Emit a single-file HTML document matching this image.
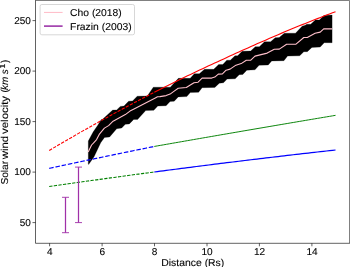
<!DOCTYPE html>
<html><head><meta charset="utf-8"><title>Solar wind velocity</title>
<style>
html,body{margin:0;padding:0;background:#fff;}
body{width:350px;height:267px;overflow:hidden;position:relative;}
svg{will-change:transform;}
svg text{font-family:"Liberation Sans",sans-serif;fill:#000;stroke:#000;stroke-width:0.1px;text-rendering:geometricPrecision;}
</style></head><body>
<svg width="350" height="267" viewBox="0 0 350 267" style="position:absolute;left:0;top:0">
<rect x="0" y="0" width="350" height="267" fill="#fff"/>
<polygon points="88.3,152.0 88.3,141.0 93.1,132.1 97.6,125.5 101.1,119.7 102.6,119.2 112.7,110.1 116.7,109.9 120.3,106.4 124.0,106.1 128.6,101.2 132.6,101.0 137.2,96.2 147.3,96.0 153.3,87.2 170.3,87.2 178.4,78.3 190.2,78.3 194.3,73.7 199.3,73.7 204.5,69.3 213.7,69.3 218.7,64.5 222.8,64.5 226.8,60.2 230.3,60.2 235.0,55.8 237.6,55.8 242.1,51.2 250.7,51.0 255.3,46.7 259.3,46.7 264.5,41.8 270.6,41.8 275.2,37.7 279.2,37.5 284.3,33.2 295.5,33.2 302.1,26.2 305.2,25.2 306.7,24.2 310.7,24.2 315.3,20.0 319.3,20.0 323.9,15.6 332.1,15.0 332.1,42.7 324.2,42.7 320.2,47.1 311.9,47.4 307.3,51.7 303.8,51.7 299.7,55.8 287.6,56.1 283.9,60.7 271.7,61.0 268.2,65.0 259.1,65.2 255.0,69.8 246.8,70.2 242.8,74.5 239.2,74.7 235.2,78.8 227.1,79.1 223.5,82.8 219.3,83.2 214.8,87.4 202.1,87.7 198.6,92.3 190.3,92.6 186.8,96.6 178.2,96.9 174.2,101.2 170.1,101.4 166.1,105.7 157.8,106.1 153.8,110.3 145.7,110.6 137.6,119.4 133.7,119.4 129.3,123.9 125.3,124.3 121.7,128.1 116.7,128.7 109.6,137.0 104.5,137.4 100.7,142.7 98.2,148.1 94.1,156.7 88.6,164.6 88.3,163.8" fill="#000" stroke="#000" stroke-width="0.25" stroke-linejoin="round"/>
<polyline points="88.2,152.1 91.6,145.0 94.1,142.3 96.6,139.6 99.2,134.4 104.4,128.1 108.6,125.6 113.1,121.2 125.3,114.6 130.0,111.1 134.0,109.1 155.3,98.0 157.5,96.8 160.0,96.6 166.1,95.6 170.1,94.1 174.2,91.1 178.2,88.2 186.3,87.5 190.3,85.0 194.0,82.7 198.1,82.2 202.1,78.1 211.7,78.1 214.8,77.1 218.3,74.1 222.4,73.9 226.1,70.2 230.1,69.1 235.2,65.6 241.2,63.6 246.3,60.2 250.8,60.2 255.0,56.1 260.1,54.9 267.2,53.1 274.3,49.3 279.3,49.1 286.6,44.3 295.7,44.3 303.8,37.5 307.3,37.5 315.1,33.3 320.2,32.1 323.7,28.9 332.1,28.9" fill="none" stroke="#ffc0cb" stroke-width="1.1" stroke-linejoin="round"/>
<polyline points="49.20,150.50 50.95,149.46 52.70,148.42 54.45,147.38 56.21,146.35 57.96,145.32 59.71,144.29 61.46,143.26 63.21,142.24 64.96,141.22 66.71,140.20 68.46,139.18 70.22,138.17 71.97,137.16 73.72,136.15 75.47,135.14 77.22,134.14 78.97,133.13 80.72,132.13 82.48,131.14 84.23,130.14 85.98,129.15 87.73,128.16 89.48,127.17 91.23,126.18 92.98,125.20 94.73,124.22 96.49,123.24 98.24,122.26 99.99,121.29 101.74,120.32 103.49,119.35 105.24,118.38 106.99,117.41 108.75,116.45 110.50,115.49 112.25,114.54 114.00,113.58 115.75,112.63 117.50,111.68 119.25,110.73 121.00,109.79 122.76,108.84 124.51,107.90 126.26,106.96 128.01,106.03 129.76,105.10 131.51,104.17 133.26,103.24 135.02,102.32 136.77,101.39 138.52,100.47 140.27,99.56 142.02,98.64 143.77,97.73 145.52,96.82 147.27,95.92 149.03,95.01 150.78,94.11 152.53,93.21 154.28,92.32" fill="none" stroke="#ff0000" stroke-width="1.1" stroke-dasharray="3.3 1.33"/>
<polyline points="154.28,92.32 157.30,90.78 160.32,89.25 163.34,87.73 166.36,86.22 169.39,84.72 172.41,83.22 175.43,81.74 178.45,80.26 181.47,78.79 184.49,77.32 187.51,75.87 190.53,74.42 193.55,72.98 196.57,71.55 199.60,70.12 202.62,68.70 205.64,67.28 208.66,65.87 211.68,64.46 214.70,63.06 217.72,61.67 220.74,60.27 223.76,58.88 226.79,57.50 229.81,56.11 232.83,54.74 235.85,53.36 238.87,51.99 241.89,50.62 244.91,49.26 247.93,47.90 250.95,46.55 253.97,45.20 257.00,43.86 260.02,42.53 263.04,41.20 266.06,39.88 269.08,38.56 272.10,37.25 275.12,35.95 278.14,34.66 281.16,33.38 284.19,32.10 287.21,30.83 290.23,29.57 293.25,28.32 296.27,27.08 299.29,25.85 302.31,24.62 305.33,23.40 308.35,22.19 311.37,20.99 314.40,19.80 317.42,18.62 320.44,17.44 323.46,16.27 326.48,15.11 329.50,13.96 332.52,12.81 335.54,11.67" fill="none" stroke="#ff0000" stroke-width="1.1"/>
<polyline points="49.20,168.36 50.95,167.99 52.70,167.61 54.45,167.23 56.21,166.86 57.96,166.48 59.71,166.11 61.46,165.73 63.21,165.36 64.96,164.99 66.71,164.61 68.46,164.24 70.22,163.87 71.97,163.49 73.72,163.12 75.47,162.75 77.22,162.38 78.97,162.01 80.72,161.64 82.48,161.27 84.23,160.90 85.98,160.53 87.73,160.16 89.48,159.79 91.23,159.43 92.98,159.06 94.73,158.69 96.49,158.33 98.24,157.96 99.99,157.59 101.74,157.23 103.49,156.86 105.24,156.50 106.99,156.13 108.75,155.77 110.50,155.41 112.25,155.04 114.00,154.68 115.75,154.32 117.50,153.96 119.25,153.60 121.00,153.24 122.76,152.87 124.51,152.51 126.26,152.15 128.01,151.79 129.76,151.44 131.51,151.08 133.26,150.72 135.02,150.36 136.77,150.00 138.52,149.65 140.27,149.29 142.02,148.93 143.77,148.58 145.52,148.22 147.27,147.87 149.03,147.51 150.78,147.16 152.53,146.80 154.28,146.45" fill="none" stroke="#0000ff" stroke-width="1.2" stroke-dasharray="4.52 1.84"/>
<polyline points="154.28,146.45 157.30,145.92 160.32,145.39 163.34,144.86 166.36,144.33 169.39,143.80 172.41,143.27 175.43,142.74 178.45,142.22 181.47,141.69 184.49,141.16 187.51,140.64 190.53,140.11 193.55,139.59 196.57,139.06 199.60,138.54 202.62,138.01 205.64,137.49 208.66,136.96 211.68,136.44 214.70,135.92 217.72,135.40 220.74,134.87 223.76,134.35 226.79,133.83 229.81,133.31 232.83,132.79 235.85,132.27 238.87,131.75 241.89,131.23 244.91,130.71 247.93,130.20 250.95,129.68 253.97,129.16 257.00,128.64 260.02,128.13 263.04,127.61 266.06,127.10 269.08,126.58 272.10,126.07 275.12,125.55 278.14,125.04 281.16,124.52 284.19,124.01 287.21,123.50 290.23,122.98 293.25,122.47 296.27,121.96 299.29,121.45 302.31,120.94 305.33,120.43 308.35,119.92 311.37,119.41 314.40,118.90 317.42,118.39 320.44,117.88 323.46,117.37 326.48,116.86 329.50,116.36 332.52,115.85 335.54,115.34" fill="none" stroke="#008000" stroke-width="0.95"/>
<polyline points="49.20,186.54 50.95,186.29 52.70,186.04 54.45,185.78 56.21,185.53 57.96,185.28 59.71,185.03 61.46,184.78 63.21,184.53 64.96,184.28 66.71,184.03 68.46,183.78 70.22,183.53 71.97,183.28 73.72,183.03 75.47,182.78 77.22,182.54 78.97,182.29 80.72,182.04 82.48,181.80 84.23,181.55 85.98,181.30 87.73,181.06 89.48,180.81 91.23,180.57 92.98,180.32 94.73,180.08 96.49,179.84 98.24,179.59 99.99,179.35 101.74,179.11 103.49,178.86 105.24,178.62 106.99,178.38 108.75,178.14 110.50,177.90 112.25,177.66 114.00,177.42 115.75,177.18 117.50,176.94 119.25,176.70 121.00,176.46 122.76,176.22 124.51,175.99 126.26,175.75 128.01,175.51 129.76,175.27 131.51,175.04 133.26,174.80 135.02,174.57 136.77,174.33 138.52,174.10 140.27,173.86 142.02,173.63 143.77,173.39 145.52,173.16 147.27,172.93 149.03,172.69 150.78,172.46 152.53,172.23 154.28,172.00" fill="none" stroke="#008000" stroke-width="1.1" stroke-dasharray="3.3 1.33"/>
<polyline points="154.28,172.00 157.30,171.60 160.32,171.20 163.34,170.80 166.36,170.41 169.39,170.01 172.41,169.62 175.43,169.23 178.45,168.84 181.47,168.45 184.49,168.06 187.51,167.67 190.53,167.28 193.55,166.90 196.57,166.51 199.60,166.13 202.62,165.74 205.64,165.36 208.66,164.98 211.68,164.60 214.70,164.22 217.72,163.85 220.74,163.47 223.76,163.10 226.79,162.72 229.81,162.35 232.83,161.98 235.85,161.61 238.87,161.24 241.89,160.87 244.91,160.50 247.93,160.13 250.95,159.77 253.97,159.40 257.00,159.04 260.02,158.68 263.04,158.32 266.06,157.96 269.08,157.60 272.10,157.24 275.12,156.88 278.14,156.53 281.16,156.17 284.19,155.82 287.21,155.47 290.23,155.12 293.25,154.77 296.27,154.42 299.29,154.07 302.31,153.72 305.33,153.38 308.35,153.03 311.37,152.69 314.40,152.34 317.42,152.00 320.44,151.66 323.46,151.32 326.48,150.98 329.50,150.65 332.52,150.31 335.54,149.98" fill="none" stroke="#0000ff" stroke-width="1.2"/>
<path d="M65.5,197.3V232.7" fill="none" stroke="#a030a8" stroke-width="1.25"/>
<path d="M62.0,197.3h7M62.0,232.7h7" fill="none" stroke="#a030a8" stroke-width="0.9"/>
<path d="M78.5,167.1V222.6" fill="none" stroke="#a030a8" stroke-width="1.25"/>
<path d="M75.0,167.1h7M75.0,222.6h7" fill="none" stroke="#a030a8" stroke-width="0.9"/>
<path d="M35.5,0.2V243.3H349.8" fill="none" stroke="#000" stroke-width="0.62"/>
<path d="M35.5,0.5H349.5V243.3" fill="none" stroke="#000" stroke-width="0.5"/>
<path d="M35.5,222.6h-3" stroke="#000" stroke-width="0.62"/>
<text x="30.9" y="225.9" text-anchor="end" font-size="10.0" textLength="11.1" lengthAdjust="spacingAndGlyphs">50</text>
<path d="M35.5,172.1h-3" stroke="#000" stroke-width="0.62"/>
<text x="30.9" y="175.4" text-anchor="end" font-size="10.0" textLength="16.7" lengthAdjust="spacingAndGlyphs">100</text>
<path d="M35.5,121.6h-3" stroke="#000" stroke-width="0.62"/>
<text x="30.9" y="124.9" text-anchor="end" font-size="10.0" textLength="16.7" lengthAdjust="spacingAndGlyphs">150</text>
<path d="M35.5,71.1h-3" stroke="#000" stroke-width="0.62"/>
<text x="30.9" y="74.4" text-anchor="end" font-size="10.0" textLength="16.7" lengthAdjust="spacingAndGlyphs">200</text>
<path d="M35.5,20.6h-3" stroke="#000" stroke-width="0.62"/>
<text x="30.9" y="23.9" text-anchor="end" font-size="10.0" textLength="16.7" lengthAdjust="spacingAndGlyphs">250</text>
<path d="M49.6,243.3v3" stroke="#000" stroke-width="0.62"/>
<text x="49.7" y="254.9" text-anchor="middle" font-size="10.0" textLength="5.6" lengthAdjust="spacingAndGlyphs">4</text>
<path d="M102.1,243.3v3" stroke="#000" stroke-width="0.62"/>
<text x="102.2" y="254.9" text-anchor="middle" font-size="10.0" textLength="5.6" lengthAdjust="spacingAndGlyphs">6</text>
<path d="M154.5,243.3v3" stroke="#000" stroke-width="0.62"/>
<text x="154.6" y="254.9" text-anchor="middle" font-size="10.0" textLength="5.6" lengthAdjust="spacingAndGlyphs">8</text>
<path d="M207.0,243.3v3" stroke="#000" stroke-width="0.62"/>
<text x="207.1" y="254.9" text-anchor="middle" font-size="10.0" textLength="11.2" lengthAdjust="spacingAndGlyphs">10</text>
<path d="M259.4,243.3v3" stroke="#000" stroke-width="0.62"/>
<text x="259.5" y="254.9" text-anchor="middle" font-size="10.0" textLength="11.2" lengthAdjust="spacingAndGlyphs">12</text>
<path d="M311.9,243.3v3" stroke="#000" stroke-width="0.62"/>
<text x="312.0" y="254.9" text-anchor="middle" font-size="10.0" textLength="11.2" lengthAdjust="spacingAndGlyphs">14</text>
<text x="192.8" y="266.2" text-anchor="middle" font-size="10.0" textLength="63" lengthAdjust="spacingAndGlyphs">Distance (Rs)</text>
<g transform="translate(7.9,184.6) rotate(-90)"><text x="0" y="0" font-size="10.0" textLength="23.7" lengthAdjust="spacingAndGlyphs">Solar</text></g>
<g transform="translate(7.9,159.2) rotate(-90)"><text x="0" y="0" font-size="10.0" textLength="23.4" lengthAdjust="spacingAndGlyphs">wind</text></g>
<g transform="translate(7.9,133.9) rotate(-90)"><text x="0" y="0" font-size="10.0" textLength="44.9" lengthAdjust="spacingAndGlyphs">velocity (</text></g>
<g transform="translate(7.9,90.0) rotate(-90)"><text x="0" y="0" font-size="10.0" font-style="italic" textLength="20.8" lengthAdjust="spacingAndGlyphs">km s</text></g>
<g transform="translate(5.4,68.7) rotate(-90)"><text x="0" y="0" font-size="7.6" stroke-width="0.25" textLength="5.2" lengthAdjust="spacingAndGlyphs">1</text></g>
<g transform="translate(7.9,63.0) rotate(-90)"><text x="0" y="0" font-size="10.0">)</text></g>
<rect x="40.1" y="4.5" width="94.4" height="30.3" rx="1.8" fill="#fff" fill-opacity="0.8" stroke="#d0d0d0" stroke-width="0.85"/>
<path d="M44,12.45H62.6" stroke="#ffc0cb" stroke-width="1.1"/>
<path d="M44,26.1H62.6" stroke="#9220a0" stroke-width="1.45"/>
<text x="70.1" y="15.9" font-size="10.0" textLength="51.7" lengthAdjust="spacingAndGlyphs">Cho (2018)</text>
<text x="70.1" y="29.5" font-size="10.0" textLength="61.5" lengthAdjust="spacingAndGlyphs">Frazin (2003)</text>
</svg>
</body></html>
